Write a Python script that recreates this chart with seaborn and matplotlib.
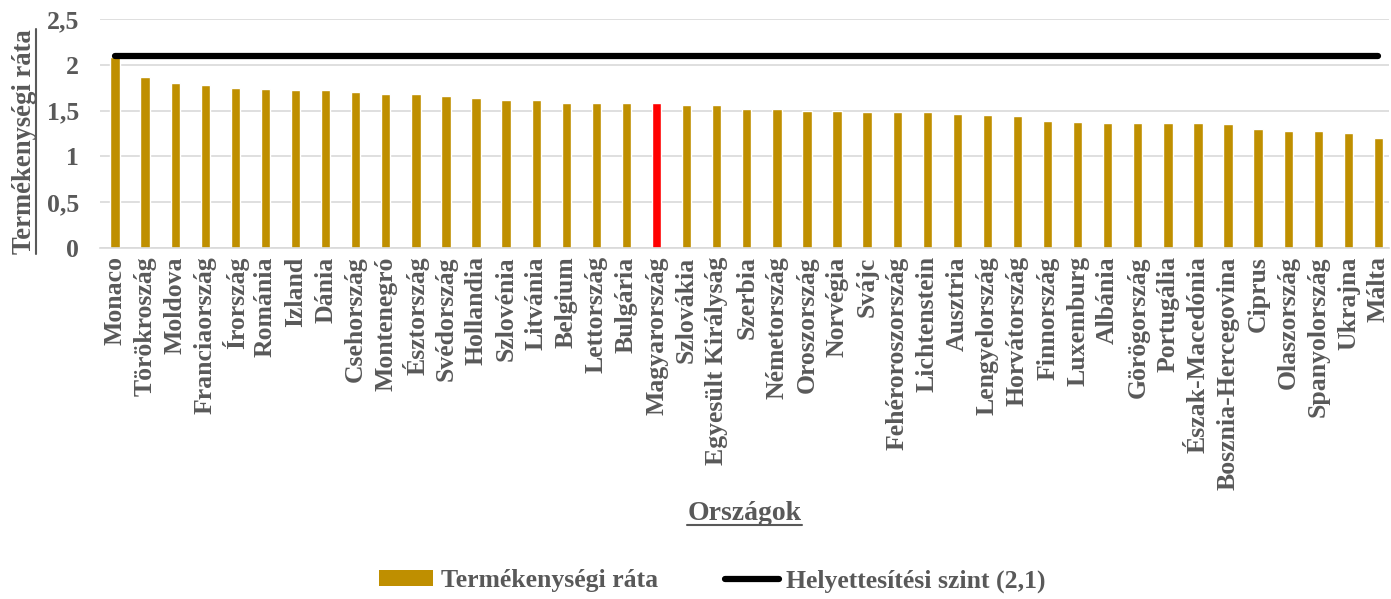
import numpy as np
import matplotlib

matplotlib.use("Agg")
import matplotlib.pyplot as plt
import seaborn as sns
from matplotlib.lines import Line2D
from matplotlib.patches import Patch

# Fertility rates by country
countries = [
    "Monaco", "Törökroszág", "Moldova", "Franciaország", "Írország", "Románia",
    "Izland", "Dánia", "Csehország", "Montenegró", "Észtország", "Svédország",
    "Hollandia", "Szlovénia", "Litvánia", "Belgium", "Lettország", "Bulgária",
    "Magyarország", "Szlovákia", "Egyesült Királyság", "Szerbia", "Németország",
    "Oroszország", "Norvégia", "Svájc", "Fehéroroszország", "Lichtenstein",
    "Ausztria", "Lengyelország", "Horvátország", "Finnország", "Luxemburg",
    "Albánia", "Görögország", "Portugália", "Észak-Macedónia",
    "Bosznia-Hercegovina", "Ciprus", "Olaszország", "Spanyolország", "Ukrajna",
    "Málta",
]
fertility = [
    2.09, 1.87, 1.80, 1.78, 1.75, 1.74, 1.72, 1.72, 1.70, 1.68, 1.68, 1.66,
    1.64, 1.62, 1.62, 1.58, 1.58, 1.58, 1.58, 1.56, 1.56, 1.52, 1.52, 1.50,
    1.50, 1.49, 1.49, 1.48, 1.46, 1.45, 1.44, 1.39, 1.38, 1.37, 1.36, 1.36,
    1.36, 1.35, 1.30, 1.28, 1.28, 1.26, 1.20,
]
replacement_level = 2.1
highlight = "Magyarország"
y_ticks = [0, 0.5, 1, 1.5, 2, 2.5]
y_tick_labels = ["0", "0,5", "1", "1,5", "2", "2,5"]

GOLD = "#BF8F00"
RED = "#FF0000"
TEXT = "#595959"
GRID = "#D9D9D9"

sns.set_theme(style="white")
plt.rcParams["font.family"] = ["Liberation Serif", "DejaVu Serif"]
plt.rcParams["font.weight"] = "bold"

fig = plt.figure(figsize=(13.91, 5.99), dpi=100)
ax = fig.add_axes([100 / 1391, (599 - 248) / 599, 1289 / 1391, 229 / 599])

palette = {c: (RED if c == highlight else GOLD) for c in countries}
sns.barplot(x=countries, y=fertility, hue=countries, palette=palette,
            legend=False, width=0.31, saturation=1, ax=ax, zorder=2)

pos = np.arange(len(countries))
ax.plot(pos, [replacement_level] * len(countries), color="black", lw=4.5,
        solid_capstyle="round", zorder=3)

ax.set_xlim(-0.5, len(countries) - 0.65)
ax.set_ylim(0, 2.5)
ax.set_yticks(y_ticks, y_tick_labels)
ax.yaxis.grid(True, color=GRID, lw=1.2, zorder=0)
ax.set_axisbelow(True)
for side in ["top", "right", "left"]:
    ax.spines[side].set_visible(False)
ax.spines["bottom"].set_color(GRID)
ax.spines["bottom"].set_linewidth(1.2)

ax.tick_params(axis="x", labelrotation=90, labelsize=18.5, colors=TEXT,
               length=0, pad=6)
ax.tick_params(axis="y", labelsize=18.5, colors=TEXT, length=0, pad=15)
for lbl in ax.get_xticklabels() + ax.get_yticklabels():
    lbl.set_fontweight("bold")

ax.set_xlabel("Országok", fontsize=20, fontweight="bold", color=TEXT)
ax.set_ylabel("Termékenységi ráta", fontsize=19.2, fontweight="bold",
              color=TEXT)
ax.xaxis.set_label_coords(0.5, -1.104)
ax.yaxis.set_label_coords(-0.049, 0.466)

handles = [
    Patch(facecolor=GOLD, edgecolor="none"),
    Line2D([0], [0], color="black", lw=4.5, solid_capstyle="round"),
]
fig.legend(handles, ["Termékenységi ráta", "Helyettesítési szint (2,1)"],
           loc="center", bbox_to_anchor=(0.5 + 17 / 1391, 1 - 581 / 599),
           ncol=2, frameon=False, handlelength=2.1, handleheight=0.6,
           columnspacing=2.6, handletextpad=0.3,
           prop={"family": ["Liberation Serif"], "weight": "bold",
                 "size": 18.5},
           labelcolor=TEXT)

# underline the axis titles
fig.canvas.draw()
renderer = fig.canvas.get_renderer()
inv = fig.transFigure.inverted()
bb = ax.xaxis.label.get_window_extent(renderer)
(x0, y0), (x1, y1) = inv.transform([[bb.x0, bb.y0 + 1], [bb.x1, bb.y1]])
fig.add_artist(Line2D([x0, x1], [y0, y0], color=TEXT, lw=1.5))
bb = ax.yaxis.label.get_window_extent(renderer)
(x0, y0), (x1, y1) = inv.transform([[bb.x0, bb.y0], [bb.x1 - 1, bb.y1]])
fig.add_artist(Line2D([x1, x1], [y0, y1], color=TEXT, lw=1.5))

fig.savefig("out.png", dpi=100)
